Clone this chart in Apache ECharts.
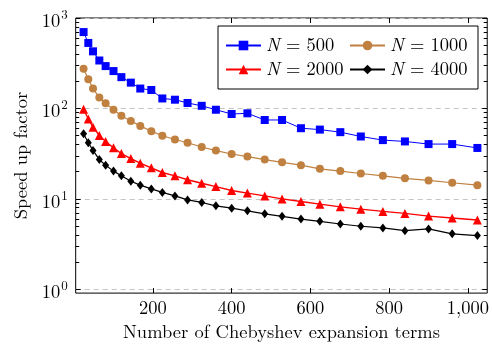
<!DOCTYPE html>
<html>
<head>
<meta charset="utf-8">
<script src="https://cdn.jsdelivr.net/npm/echarts@6/dist/echarts.min.js"></script>
<style>html,body{margin:0;padding:0;background:#fff}#c{width:492px;height:347px}</style>
</head>
<body>
<div id="c"></div>
<script>
const xTerms = [24,36,48,64,80,100,120,144,168,196,224,256,288,324,360,400,440,484,528,576,624,676,728,784,840,900,960,1024];
const speedN500 = [699,530,428,339,294,259,222,193,166,160,129,125,115,107,96.8,86.8,88.4,74.6,74.6,60.5,58.4,54.7,49,44.7,43.2,40.4,40.4,36.6];
const speedN1000 = [275,210,166,132,114,96.8,83.2,72.8,64.2,56.1,49.9,45.4,41.8,37.5,34.2,31.4,29.4,27.2,25.4,23.6,21.5,20.3,19.1,18.0,16.9,16.0,15.1,14.2];
const speedN2000 = [98,76.5,62.1,50.2,43.2,36.8,31.7,27.9,24.8,22.1,19.6,18.0,16.3,14.9,13.7,12.4,11.6,10.8,10.0,9.36,8.75,8.17,7.71,7.28,6.92,6.46,6.15,5.84];
const speedN4000 = [52.5,41.8,34.4,27.2,23.6,20.3,18.0,15.7,14.2,12.9,11.8,10.8,9.75,9.14,8.38,7.91,7.39,6.84,6.42,5.99,5.65,5.28,4.99,4.78,4.46,4.66,4.11,3.93];
const seriesNames = ['500','1000','2000','4000'];
const xTickValues = [200,400,600,800,1000];
const xTickLabels = ['200','400','600','800','1,000'];
const yMajorValues = [1,10,100,1000];
const yExponents = ['0','1','2','3'];
const yMinorValues = [];
[1,10,100].forEach(d => { for (let k = 2; k <= 9; k++) yMinorValues.push(k*d); });

const FONT = "'Latin Modern Roman','Liberation Serif',serif";
const FS = 18.5;
const chart = echarts.init(document.getElementById('c'));
const grid = {left: 75.7, top: 18, right: 2, bottom: 51, show: true, borderColor: '#000', borderWidth: 1, backgroundColor: 'transparent'};
const yMin = 0.91, yMax = 1000;
const pair = v => xTerms.map((x, i) => [x, v[i]]);

function yAxisBase(extra) {
  return Object.assign({
    type: 'log', logBase: 10, min: yMin, max: yMax,
    axisLine: {show: false}, axisLabel: {show: false}, splitLine: {show: false}
  }, extra);
}

const option = {
  animation: false,
  grid: grid,
  xAxis: [
    {
      type: 'value', min: 4, max: 1049, position: 'bottom',
      axisLine: {show: false}, splitLine: {show: false},
      axisTick: {inside: true, length: 5, lineStyle: {color: '#000'}, customValues: xTickValues},
      axisLabel: {customValues: xTickValues, margin: 6, color: '#000', fontFamily: FONT, fontSize: FS,
        formatter: v => xTickLabels[xTickValues.indexOf(v)] || ''},
      name: 'Number of Chebyshev expansion terms', nameLocation: 'middle', nameGap: 25,
      nameTextStyle: {color: '#000', fontFamily: FONT, fontSize: FS}
    },
    {
      type: 'value', min: 4, max: 1049, position: 'top',
      axisLine: {show: false}, splitLine: {show: false}, axisLabel: {show: false},
      axisTick: {inside: true, length: 5, lineStyle: {color: '#000'}, customValues: xTickValues}
    }
  ],
  yAxis: [
    yAxisBase({
      position: 'left',
      axisTick: {inside: true, length: 5, lineStyle: {color: '#000'}, customValues: yMajorValues},
      splitLine: {show: true, lineStyle: {color: '#c4c4c4', type: [5, 4], width: 1}},
      axisLabel: {show: true, customValues: yMajorValues, margin: 8, color: '#000', fontFamily: FONT,
        formatter: v => { const i = yMajorValues.indexOf(Math.round(v)); return i < 0 ? '' : '{b|10}{s|' + yExponents[i] + '}'; },
        rich: {b: {fontSize: FS, fontFamily: FONT, color: '#000', padding: [6, 0, 0, 0]}, s: {fontSize: 13, fontFamily: FONT, color: '#000', padding: [0, 0, 6, 1]}}},
      name: 'Speed up factor', nameLocation: 'middle', nameGap: 44,
      nameTextStyle: {color: '#000', fontFamily: FONT, fontSize: FS}
    }),
    yAxisBase({position: 'left', axisTick: {inside: true, length: 3.5, lineStyle: {color: '#000'}, customValues: yMinorValues}}),
    yAxisBase({position: 'right', axisTick: {inside: true, length: 5, lineStyle: {color: '#000'}, customValues: yMajorValues}}),
    yAxisBase({position: 'right', axisTick: {inside: true, length: 3.5, lineStyle: {color: '#000'}, customValues: yMinorValues}})
  ],
  legend: {
    left: 218, top: 26, orient: 'horizontal', width: 250,
    padding: [10, 10, 10, 7], itemGap: 5, itemWidth: 35, itemHeight: 12,
    borderColor: '#000', borderWidth: 1, borderRadius: 0, backgroundColor: '#fff',
    data: seriesNames.map(n => 'N = ' + n),
    formatter: name => '{i|N}{t| = ' + name.slice(4) + '}',
    textStyle: {width: 78, lineHeight: 15, fontFamily: FONT, fontSize: FS, color: '#000',
      rich: {i: {fontStyle: 'italic', fontFamily: FONT, fontSize: FS, color: '#000'}, t: {fontFamily: FONT, fontSize: FS, color: '#000'}}}
  },
  series: [
    {name: 'N = 500', type: 'line', data: pair(speedN500), symbol: 'rect', symbolSize: 8,
      itemStyle: {color: '#0000ff'}, lineStyle: {color: '#0000ff', width: 1}},
    {name: 'N = 1000', type: 'line', data: pair(speedN1000), symbol: 'circle', symbolSize: 8,
      itemStyle: {color: '#bf8040'}, lineStyle: {color: '#bf8040', width: 1.2}},
    {name: 'N = 2000', type: 'line', data: pair(speedN2000), symbol: 'triangle', symbolSize: 9,
      itemStyle: {color: '#ff0000'}, lineStyle: {color: '#ff0000', width: 1.4}},
    {name: 'N = 4000', type: 'line', data: pair(speedN4000), symbol: 'diamond', symbolSize: [7, 9],
      itemStyle: {color: '#000'}, lineStyle: {color: '#000', width: 1.2}}
  ]
};
chart.setOption(option);
</script>
</body>
</html>
